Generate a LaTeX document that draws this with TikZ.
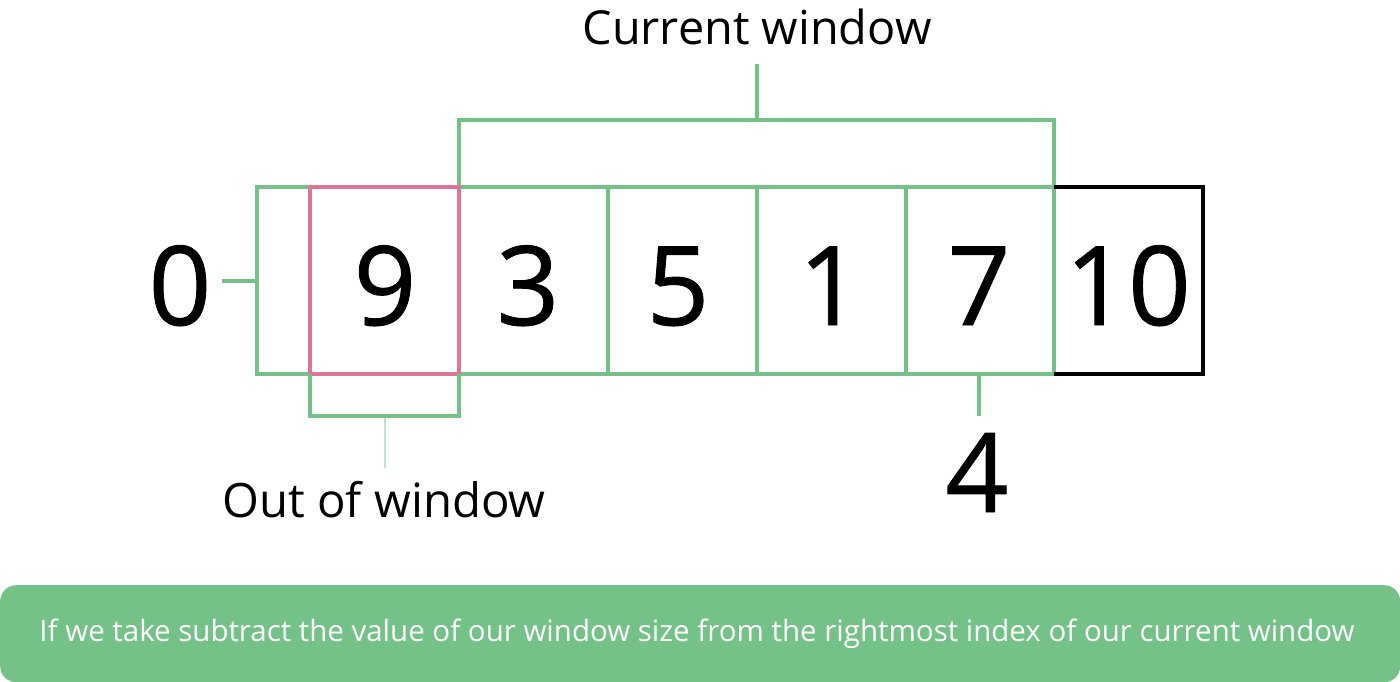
\documentclass[tikz,border=0pt]{standalone}
\usepackage{fontspec}
\setmainfont{Open Sans}
\newfontfamily\digitfont[FakeBold=0.8]{Open Sans}
\usetikzlibrary{positioning}
\definecolor{wgreen}{RGB}{116,194,135}
\definecolor{wpink}{RGB}{224,116,152}
\begin{document}
\begin{tikzpicture}[x=1pt,y=-1pt,
  frame/.style={line width=4pt,line join=miter},
  digit/.style={inner sep=0pt,font=\digitfont\fontsize{110}{110}\selectfont,text=black},
  label/.style={inner sep=0pt,text=black},
  stem/.style={wgreen,line width=4pt}]
\useasboundingbox (0,0) rectangle (1400,682);
% caption box
\node[fill=wgreen,rounded corners=16pt,minimum width=1400pt,minimum height=97pt,inner sep=0pt,anchor=north west] (cap) at (0,585) {};
\node[text=white,inner sep=0pt] (captext) at (697,634) {\resizebox{1315pt}{!}{If we take subtract the value of our window size from the rightmost index of our current window}};
% green outer frame and dividers
\coordinate (gl) at (257,187);
\coordinate (gr) at (1054,374);
\draw[wgreen,frame] (gl) rectangle (gr);
\foreach \x in {608,757,906} \draw[wgreen,frame] (\x,187) -- (\x,374);
% current window bracket
\coordinate (cwl) at (459,187);
\coordinate (cwr) at (1054,187);
\coordinate (cwmid) at (757,120);
\coordinate (cwstem) at (757,64);
\draw[wgreen,frame] (cwl) |- (cwmid) -| (cwr);
\draw[stem] (cwmid) -- (cwstem);
\node[label,anchor=base] (cw) at (757,45) {\resizebox{349pt}{!}{Current window}};
% black cell
\draw[black,frame] (1054,187) -- (1203,187) -- (1203,374) -- (1054,374);
% pink cell
\draw[wpink,frame] (310,187) rectangle (459,374);
% out-of-window bracket
\draw[wgreen,frame] (310,374) |- (459,416) -- (459,374);
\coordinate (owtop) at (385,418);
\coordinate (owbot) at (385,468);
\draw[wgreen!45,line width=1.8pt] (owtop) -- (owbot);
\node[label,anchor=base] (ow) at (384,517) {\resizebox{323pt}{!}{Out of window}};
% index labels
\node[digit,anchor=base] (zero) at (180,325) {0};
\coordinate (zl) at (222,281);
\coordinate (zr) at (257,281);
\draw[stem] (zl) -- (zr);
\coordinate (fourtop) at (979,374);
\coordinate (fourbot) at (979,416);
\draw[stem] (fourtop) -- (fourbot);
\node[digit,anchor=base] (four) at (977,512) {4};
% digits
\node[digit,anchor=base] (d9) at (385,325) {9};
\node[digit,anchor=base] (d3) at (528,325) {3};
\node[digit,anchor=base] (d5) at (678,325) {5};
\node[digit,anchor=base] (d1) at (830,325) {1};
\node[digit,anchor=base] (d7) at (979,325) {7};
\node[digit,anchor=base] (d10) at (1128,325) {10};
\end{tikzpicture}
\end{document}
